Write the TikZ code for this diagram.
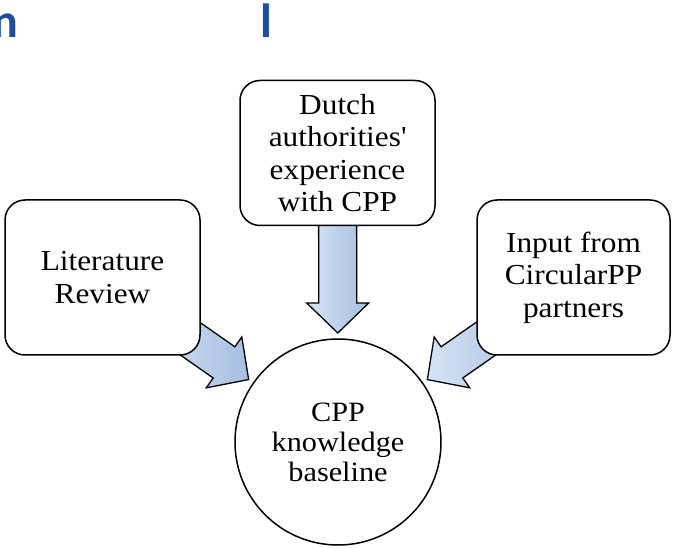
\documentclass[tikz,border=0pt]{standalone}
\usepackage{fontspec}
\setmainfont[FakeStretch=1.08]{Liberation Serif}
\newfontfamily\headfont{Carlito}
\usepackage{tikz}
\usetikzlibrary{calc, backgrounds}
\definecolor{headblue}{HTML}{1F4E9E}
\definecolor{arrowlight}{HTML}{D6E3F4}
\definecolor{arrowdark}{HTML}{A6BFE2}

\tikzset{
  sourcebox/.style={draw=black, line width=1.5pt, fill=white, rounded corners=20pt,
        align=center, inner sep=4pt, font=\fontsize{29}{32.5}\selectfont},
  basecircle/.style={draw=black, line width=1.5pt, fill=white, circle,
        minimum size=206pt, align=center, inner sep=0pt, font=\fontsize{28}{30}\selectfont},
  feed/.style={draw=black, line width=1.3pt, line join=miter,
        left color=arrowlight, right color=arrowdark},
  headtext/.style={text=headblue, inner sep=0pt, font=\headfont\bfseries\fontsize{48}{50}\selectfont}
}

% block arrow from source node #1 to target node #2
\newcommand{\feedarrow}[2]{%
  \coordinate (tip) at ($(#2)!109pt!(#1)$);
  \coordinate (tail) at ($(#2)!230pt!(#1)$);
  \coordinate (neck) at ($(#2)!139pt!(#1)$);
  \path[feed] ($(tail)!19pt!90:(tip)$) -- ($(neck)!19pt!-90:(tail)$)
    -- ($(neck)!31pt!-90:(tail)$) -- (tip) -- ($(neck)!31pt!90:(tail)$)
    -- ($(neck)!19pt!90:(tail)$) -- ($(tail)!19pt!-90:(tip)$) -- cycle;}

\begin{document}
\begin{tikzpicture}[x=1pt, y=-1pt]
  \useasboundingbox (0,0) rectangle (673,548);

  % cut-off heading letters
  \node[headtext, anchor=base east] (headn) at (18,38) {n};
  \node[headtext, anchor=base west] (headl) at (260,38) {l};

  % sources
  \node[sourcebox, minimum width=195pt, minimum height=155pt] (lit) at (102.5,277.5)
    {Literature\\Review};
  \node[sourcebox, minimum width=195pt, minimum height=145pt] (dutch) at (337.5,153)
    {Dutch\\authorities\textquotesingle\\experience\\with CPP};
  \node[sourcebox, minimum width=193pt, minimum height=155pt] (partners) at (573.5,277.5)
    {Input from\\CircularPP\\partners};

  % target
  \node[basecircle] (base) at (338,442) {CPP\\knowledge\\baseline};

  \begin{scope}[on background layer]
    \fill[white] (0,0) rectangle (673,548);
    \feedarrow{lit}{base}
    \feedarrow{dutch}{base}
    \feedarrow{partners}{base}
  \end{scope}
\end{tikzpicture}
\end{document}
